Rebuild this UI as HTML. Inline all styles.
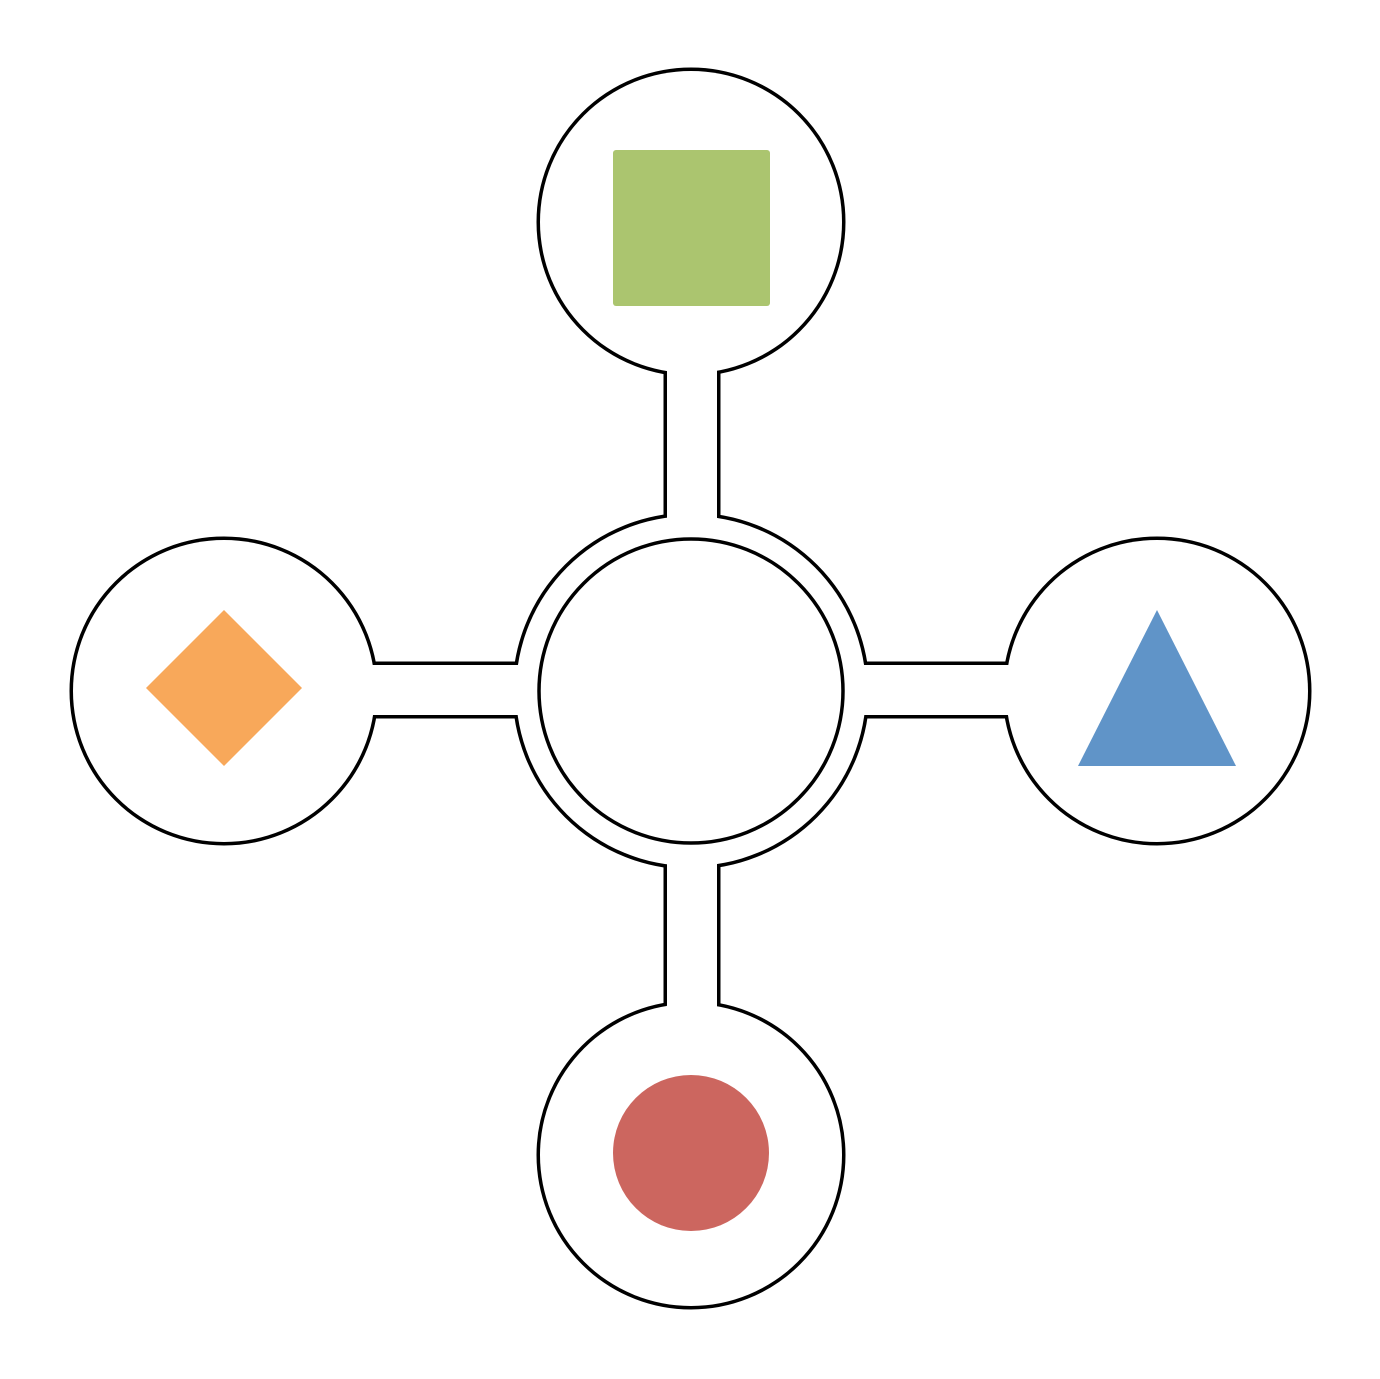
<!DOCTYPE html>
<html><head><meta charset="utf-8"><style>html,body{margin:0;padding:0;background:#fff}svg{display:block}</style></head>
<body>
<svg width="1380" height="1379" viewBox="0 0 1380 1379" xmlns="http://www.w3.org/2000/svg">
<g stroke="#000" stroke-width="7" fill="none">
  <circle cx="691" cy="691" r="175"/>
  <circle cx="691" cy="222" r="151"/>
  <circle cx="224" cy="691" r="151"/>
  <circle cx="1157" cy="691" r="151"/>
  <circle cx="691" cy="1155" r="151"/>
  <rect x="667" y="300" width="50" height="780"/>
  <rect x="300" y="665" width="780" height="50"/>
</g>
<g fill="#fff" stroke="none">
  <circle cx="691" cy="691" r="175"/>
  <circle cx="691" cy="222" r="151"/>
  <circle cx="224" cy="691" r="151"/>
  <circle cx="1157" cy="691" r="151"/>
  <circle cx="691" cy="1155" r="151"/>
  <rect x="667" y="300" width="50" height="780"/>
  <rect x="300" y="665" width="780" height="50"/>
</g>
<circle cx="691" cy="691" r="152" fill="#fff" stroke="#000" stroke-width="3.5"/>
<rect x="613" y="150" width="157" height="156" rx="3" fill="#abc56f"/>
<polygon points="224,610 302,688 224,766 146,688" fill="#f8a85a"/>
<polygon points="1157,610 1236,766 1078,766" fill="#6094c8"/>
<circle cx="691" cy="1153" r="78" fill="#cc665f"/>
</svg>
</body></html>
